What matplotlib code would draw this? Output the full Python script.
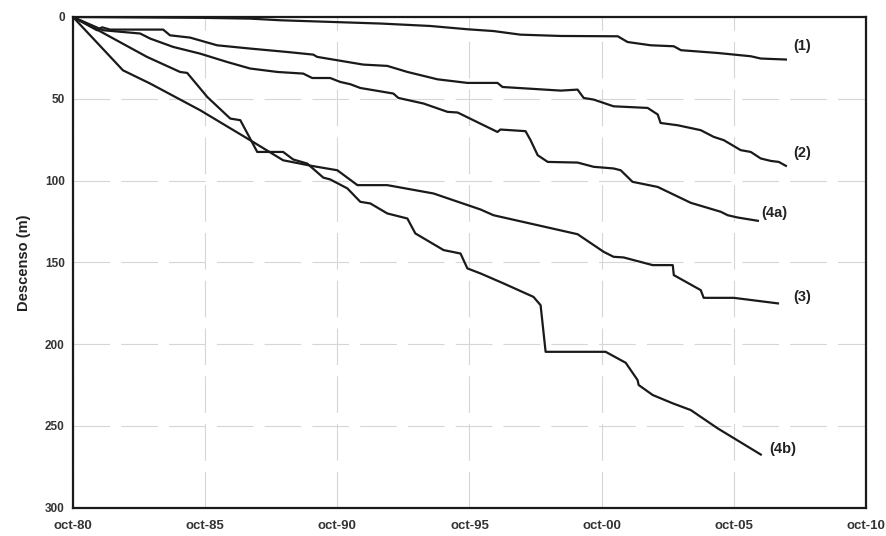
import matplotlib
matplotlib.use('Agg')
import matplotlib.pyplot as plt

plt.rcParams['font.family'] = ['Liberation Sans', 'DejaVu Sans']

# years as decimal (oct-80 = 1980.75), descenso in m
t1 = [1980.75, 1985.56, 1987.45, 1988.59, 1992.38, 1994.27, 1995.67, 1996.66, 1997.68,
      1999.20, 2001.36, 2001.73, 2002.61, 2003.48, 2003.75, 2005.14, 2006.39, 2006.77, 2007.72]
d1 = [0, 0.5, 1.0, 2.0, 4.0, 5.5, 7.5, 8.6, 10.8,
      11.6, 11.8, 15.3, 17.3, 17.9, 20.3, 22.0, 24.0, 25.4, 26.0]

t2 = [1980.75, 1981.66, 1981.85, 1982.15, 1984.16, 1984.42, 1985.18, 1986.20, 1987.45,
      1988.86, 1989.84, 1989.99, 1991.73, 1992.64, 1993.40, 1994.54, 1995.67, 1996.81,
      1997.00, 1999.20, 1999.84, 2000.07, 2000.45, 2001.20, 2002.49, 2002.87, 2002.98,
      2003.63, 2004.50, 2004.99, 2005.37, 2006.01, 2006.39, 2006.77, 2007.15, 2007.45, 2007.72]
d2 = [0, 8.1, 6.3, 7.7, 7.7, 11.2, 12.6, 17.3, 19.3,
      21.4, 23.0, 24.4, 29.1, 29.9, 33.6, 38.1, 40.3, 40.3,
      42.8, 45.0, 44.4, 49.5, 50.5, 54.6, 55.6, 59.6, 64.8,
      66.2, 69.2, 73.3, 75.3, 81.4, 82.5, 86.5, 88.0, 88.6, 91.0]

t4a = [1980.75, 1981.89, 1983.29, 1983.67, 1984.54, 1985.56, 1986.58, 1987.45, 1988.48,
       1989.46, 1989.80, 1990.48, 1990.86, 1991.24, 1991.62, 1992.87, 1993.06, 1994.01,
       1994.92, 1995.30, 1996.81, 1996.92, 1997.87, 1998.06, 1998.33, 1998.71, 1999.84,
       2000.45, 2001.20, 2001.47, 2001.92, 2002.11, 2002.87, 2004.12, 2005.26, 2005.52,
       2005.90, 2006.66]
d4a = [0, 8.1, 10.1, 13.2, 18.3, 22.4, 27.5, 31.5, 33.6,
       34.6, 37.3, 37.3, 39.7, 41.1, 43.4, 46.8, 49.5, 52.9,
       58.0, 58.4, 70.3, 68.8, 69.8, 75.3, 84.5, 88.6, 89.0,
       91.6, 92.6, 93.7, 100.8, 101.4, 103.9, 113.6, 119.1, 121.2,
       122.6, 124.6]

t3 = [1980.75, 1982.64, 1983.67, 1985.56, 1987.45, 1988.70, 1989.84, 1990.75, 1991.51,
      1992.64, 1994.39, 1996.17, 1996.66, 1999.84, 2000.83, 2001.20, 2001.58, 2002.68,
      2003.44, 2003.48, 2004.50, 2004.61, 2005.75, 2007.42]
d3 = [0, 32.6, 40.7, 57.0, 75.3, 87.6, 91.2, 93.7, 102.8,
      102.8, 107.9, 117.7, 121.2, 132.8, 143.6, 146.6, 147.0, 151.7,
      151.7, 157.8, 167.0, 171.7, 171.7, 175.1]

t4b = [1980.75, 1981.77, 1983.55, 1984.80, 1985.07, 1985.83, 1986.70, 1987.08, 1987.72,
       1988.70, 1989.08, 1989.61, 1990.22, 1990.48, 1991.13, 1991.62, 1992.00, 1992.64,
       1993.40, 1993.70, 1994.77, 1995.41, 1995.67, 1996.17, 1997.04, 1998.17, 1998.44,
       1998.63, 2000.90, 2001.66, 2002.11, 2002.15, 2002.68, 2003.44, 2004.12, 2005.14,
       2006.77]
d4b = [0, 8.7, 24.4, 33.6, 34.2, 48.9, 62.1, 63.1, 82.5,
       82.5, 87.1, 89.6, 98.2, 99.3, 104.8, 113.0, 114.0, 120.1,
       123.2, 132.3, 142.5, 144.6, 153.7, 156.8, 162.9, 171.1, 176.2,
       204.7, 204.7, 211.4, 222.0, 225.0, 231.1, 236.2, 240.3, 251.5,
       267.5]

labels = ['(1)', '(2)', '(4a)', '(3)', '(4b)']
label_pos = [(2008.0, 18), (2008.0, 83), (2006.8, 120), (2008.0, 171), (2007.1, 264)]

xticks = [1980.75, 1985.75, 1990.75, 1995.75, 2000.75, 2005.75, 2010.75]
xticklabels = ['oct-80', 'oct-85', 'oct-90', 'oct-95', 'oct-00', 'oct-05', 'oct-10']
yticks = [0, 50, 100, 150, 200, 250, 300]

fig = plt.figure(figsize=(8.87, 5.36), dpi=100)
ax = fig.add_axes([0.0823, 0.0528, 0.894, 0.9155])

for t, d in [(t1, d1), (t2, d2), (t4a, d4a), (t3, d3), (t4b, d4b)]:
    ax.plot(t, d, color='#1a1a1a', lw=1.6, solid_joinstyle='round', zorder=3)

for lab, (x, y) in zip(labels, label_pos):
    ax.text(x, y, lab, fontsize=10.5, fontweight='bold', color='#222222', va='center', ha='left')

ax.set_xlim(1980.75, 2010.75)
ax.set_ylim(300, 0)
ax.set_xticks(xticks)
ax.set_xticklabels(xticklabels)
ax.set_yticks(yticks)
ax.tick_params(length=0, labelsize=8.5, labelcolor='#333333', pad=6)
for lbl in ax.get_xticklabels() + ax.get_yticklabels():
    lbl.set_fontweight('bold')
ax.tick_params(axis='x', labelsize=9.5, pad=9)

ax.grid(True, color='#d6d6d6', lw=0.8, linestyle=(0, (33, 10)))
ax.set_axisbelow(True)
for s in ax.spines.values():
    s.set_linewidth(1.6)
    s.set_color('#1a1a1a')

ax.set_ylabel('Descenso (m)', fontsize=10.5, fontweight='bold', color='#222222', labelpad=10)

fig.savefig('out.png', dpi=100)
